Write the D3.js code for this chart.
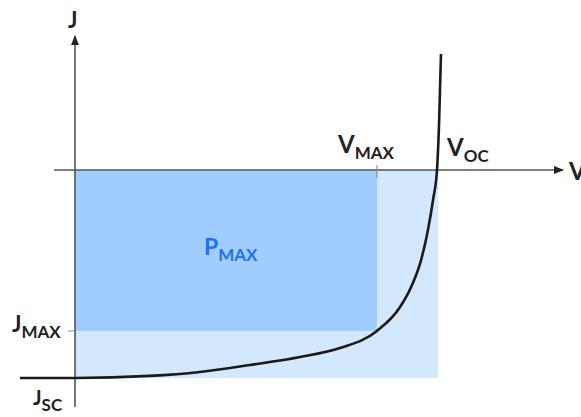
<!DOCTYPE html>
<html>
<head>
<meta charset="utf-8">
<style>
  body { margin: 0; background: #fff; }
  text { font-family: Lato, "Open Sans", sans-serif; font-weight: 700; fill: #222; }
</style>
</head>
<body>
<script src="https://d3js.org/d3.v7.min.js"></script>
<script>
// J-V curve, normalised: V in units of Voc, J in units of Jsc
var curveV = [-0.152, 0, 0.207, 0.345, 0.483, 0.622, 0.732, 0.834, 0.898, 0.931, 0.956, 0.975, 0.989, 1.0, 1.006, 1.011];
var curveJ = [-1.0, -1.0, -0.99, -0.971, -0.9375, -0.899, -0.856, -0.774, -0.659, -0.553, -0.433, -0.288, -0.144, 0, 0.24, 0.558];
var vMax = 0.834, jMax = -0.774;
var vOc = 1.003, jSc = -1.0;
var xAxisExtent = [-0.058, 1.348];
var yAxisExtent = [-1.139, 0.644];

var width = 581, height = 417;
var svg = d3.select('body').append('svg')
    .attr('width', width)
    .attr('height', height);

var x = d3.scaleLinear().domain([0, 1]).range([75, 437]);
var y = d3.scaleLinear().domain([0, -1]).range([170, 378]);

// rectangles
svg.append('rect')
    .attr('x', x(0)).attr('y', y(0))
    .attr('width', x(vOc) - x(0)).attr('height', y(jSc) - y(0))
    .attr('fill', '#d3e8fd');
svg.append('rect')
    .attr('x', x(0)).attr('y', y(0))
    .attr('width', x(vMax) - x(0)).attr('height', y(jMax) - y(0))
    .attr('fill', '#a0cdfc');

// arrow marker
svg.append('defs').append('marker')
    .attr('id', 'arr')
    .attr('viewBox', '0 0 10 10')
    .attr('refX', 9).attr('refY', 5)
    .attr('markerWidth', 10).attr('markerHeight', 10)
    .attr('markerUnits', 'userSpaceOnUse')
    .attr('orient', 'auto')
    .append('path').attr('d', 'M0,1 L10,5 L0,9 Z').attr('fill', '#222');

// axes
svg.append('line')
    .attr('x1', x(xAxisExtent[0])).attr('x2', x(xAxisExtent[1]))
    .attr('y1', y(0)).attr('y2', y(0))
    .attr('stroke', '#555').attr('stroke-width', 1.6)
    .attr('marker-end', 'url(#arr)');
svg.append('line')
    .attr('x1', x(0)).attr('x2', x(0))
    .attr('y1', y(yAxisExtent[0])).attr('y2', y(yAxisExtent[1]))
    .attr('stroke', '#555').attr('stroke-width', 1.6)
    .attr('marker-end', 'url(#arr)');

// ticks
svg.append('line')
    .attr('x1', x(vMax)).attr('x2', x(vMax))
    .attr('y1', y(0) - 5).attr('y2', y(0) + 8)
    .attr('stroke', '#888').attr('stroke-width', 1);
svg.append('line')
    .attr('x1', x(0) - 7).attr('x2', x(0))
    .attr('y1', y(jMax)).attr('y2', y(jMax))
    .attr('stroke', '#888').attr('stroke-width', 1);

// curve
var pts = curveV.map(function(v, i) { return [v, curveJ[i]]; });
svg.append('path')
    .datum(pts)
    .attr('d', d3.line()
        .x(function(d) { return x(d[0]); })
        .y(function(d) { return y(d[1]); })
        .curve(d3.curveMonotoneX))
    .attr('fill', 'none')
    .attr('stroke', '#1a1a1a')
    .attr('stroke-width', 2.6);

// labels
function label(px, py, main, sub, size, subSize, color) {
    var t = svg.append('text').attr('x', px).attr('y', py)
        .style('font-size', size + 'px');
    if (color) t.style('fill', color);
    t.append('tspan').text(main);
    if (sub) t.append('tspan').attr('dy', subSize * 0.35).style('font-size', subSize + 'px').text(sub);
    return t;
}
label(68, 28, 'J', null, 22);
label(338, 153, 'V', 'MAX', 24, 17);
label(447, 156, 'V', 'OC', 24, 17);
label(569, 180, 'V', null, 24);
label(12, 332, 'J', 'MAX', 22, 17);
label(33, 405, 'J', 'SC', 20, 17);
label(204, 255, 'P', 'MAX', 23, 17, '#2370ec');
</script>
</body>
</html>
